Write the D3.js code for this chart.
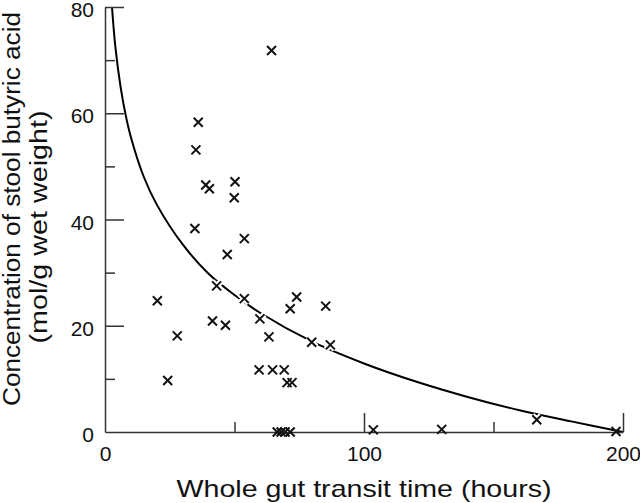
<!DOCTYPE html>
<html>
<head>
<meta charset="utf-8">
<script src="https://cdn.jsdelivr.net/npm/d3@7"></script>
<style>
  body { margin: 0; background: #fff; }
  svg { display: block; font-family: "Liberation Sans", Arial, Helvetica, sans-serif; }
  .axis path, .axis line { stroke: #333; stroke-width: 1.5; }
  .axis text { font-size: 21px; fill: #111; }
</style>
</head>
<body>
<svg width="640" height="503"></svg>
<script>
// transit time (hours) and butyric acid concentration
var hours = [36.0, 35.1, 38.9, 40.3, 50.2, 49.9, 34.7, 53.8, 64.3,
             47.2, 43.1, 20.2, 53.8, 41.5, 46.5, 59.8, 27.9, 63.3, 24.2,
             59.5, 64.7, 69.2, 70.3, 72.2, 74.0, 71.5, 85.2, 79.8, 87.0,
             66.5, 68.0, 69.5, 71.5, 103.6, 130.0, 166.7, 197.3];
var butyric = [58.3, 53.1, 46.5, 45.8, 47.1, 44.1, 38.3, 36.4, 71.8,
               33.4, 27.5, 24.7, 25.1, 20.9, 20.1, 21.3, 18.1, 17.9, 9.7,
               11.7, 11.7, 11.7, 9.3, 9.3, 25.4, 23.2, 23.7, 16.9, 16.4,
               0, 0, 0, 0, 0.4, 0.5, 2.3, 0.1];

// fitted curve, points
var fitHours = [2.7, 4, 6, 8, 10, 15, 20, 30, 40, 50, 60, 80, 100, 120, 140, 160, 180, 200];
var fitConc  = [80, 72.5, 65, 59.6, 55.5, 48, 42.8, 35.3, 29.8, 25.8, 22.4, 17.0, 12.9, 9.5, 6.6, 4.1, 2.0, 0];

var xMajor = [0, 100, 200], xMinor = [50, 150];
var yMajor = [0, 20, 40, 60, 80], yMinor = [10, 30, 50, 70];

var svg = d3.select("svg");

var x = d3.scaleLinear().domain([0, 200]).range([105, 623]);
var y = d3.scaleLinear().domain([0, 80]).range([432, 7]);

var points = hours.map(function(h, i){ return {h: h, c: butyric[i]}; });
var fit = fitHours.map(function(h, i){ return {h: h, c: fitConc[i]}; });

var line = d3.line()
  .x(function(d){ return x(d.h); })
  .y(function(d){ return y(d.c); })
  .curve(d3.curveCatmullRom);

svg.append("path")
  .datum(fit)
  .attr("d", line)
  .attr("fill", "none")
  .attr("stroke", "#000")
  .attr("stroke-width", 2);

var cross = function(d){
  var cx = x(d.h), cy = y(d.c), s = 4.5;
  return "M" + (cx - s) + "," + (cy - s) + "L" + (cx + s) + "," + (cy + s) +
         "M" + (cx - s) + "," + (cy + s) + "L" + (cx + s) + "," + (cy - s);
};

// white halo so the curve breaks around the crosses
svg.append("g").selectAll("path")
  .data(points.filter(function(d){ return d.c > 0.3; }))
  .enter().append("path")
  .attr("d", cross)
  .attr("stroke", "#fff")
  .attr("stroke-width", 6);

// axes
var yAxis = d3.axisLeft(y).tickValues(yMajor).tickSize(-19).tickSizeOuter(0).tickPadding(11);
svg.append("g").attr("class", "axis").attr("transform", "translate(105,0)").call(yAxis)
  .selectAll("text").attr("dy", "0.46em");
svg.append("g").attr("class", "axis").attr("transform", "translate(105,0)")
  .call(d3.axisLeft(y).tickValues(yMinor).tickSize(-10).tickSizeOuter(0).tickFormat(""))
  .select(".domain").remove();

var xAxis = d3.axisBottom(x).tickValues(xMajor).tickSize(-19).tickSizeOuter(0).tickPadding(14);
svg.append("g").attr("class", "axis").attr("transform", "translate(0,432)").call(xAxis);
svg.append("g").attr("class", "axis").attr("transform", "translate(0,432)")
  .call(d3.axisBottom(x).tickValues(xMinor).tickSize(-10).tickSizeOuter(0).tickFormat(""))
  .select(".domain").remove();

svg.selectAll(".axis .tick line").filter(function(d){ return d === 0; }).remove();

svg.append("g").selectAll("path")
  .data(points)
  .enter().append("path")
  .attr("d", cross)
  .attr("stroke", "#111")
  .attr("stroke-width", 2);

svg.append("text")
  .attr("x", 364).attr("y", 497)
  .attr("text-anchor", "middle")
  .attr("textLength", 375).attr("lengthAdjust", "spacingAndGlyphs")
  .style("font-size", "24px").style("fill", "#111")
  .text("Whole gut transit time (hours)");

svg.append("text")
  .attr("transform", "translate(20,209) rotate(-90)")
  .attr("text-anchor", "middle")
  .attr("textLength", 394).attr("lengthAdjust", "spacingAndGlyphs")
  .style("font-size", "23px").style("fill", "#111")
  .text("Concentration of stool butyric acid");

svg.append("text")
  .attr("transform", "translate(47,227) rotate(-90)")
  .attr("text-anchor", "middle")
  .attr("textLength", 233).attr("lengthAdjust", "spacingAndGlyphs")
  .style("font-size", "23px").style("fill", "#111")
  .text("(mol/g wet weight)");
</script>
</body>
</html>
